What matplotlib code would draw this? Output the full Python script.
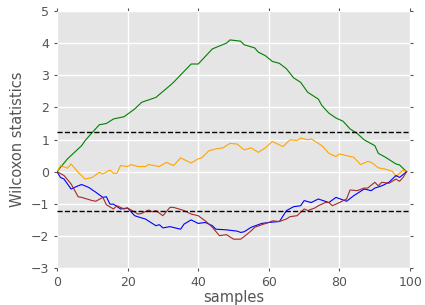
import matplotlib
matplotlib.use("Agg")
import matplotlib.pyplot as plt

plt.style.use("ggplot")
plt.rcParams["font.family"] = ["DejaVu Sans"]

green_x = [0,3,7,8,10,12,14,16,19,22,24,28,32,33,38,40,44,48,49,52,53,56,57,59,61,63,65,67,69,71,74,75,77,79,81,83,85,87,90,91,93,96,97,99]
green_y = [0,0.40,0.81,0.97,1.22,1.46,1.50,1.64,1.71,1.95,2.16,2.31,2.68,2.78,3.35,3.35,3.82,4.0,4.1,4.06,3.95,3.85,3.72,3.61,3.43,3.37,3.20,2.92,2.78,2.47,2.26,2.06,1.82,1.67,1.57,1.33,1.19,0.99,0.81,0.57,0.45,0.24,0.21,0]

orange_x = [0,1,3,4,6,8,10,12,13,15,16,17,18,20,21,23,25,26,29,31,33,35,38,40,41,43,45,47,49,51,53,55,57,59,61,64,66,68,69,71,72,75,77,79,80,82,84,86,88,89,91,93,95,96,97,98,99]
orange_y = [0,0.19,0.11,0.24,-0.02,-0.23,-0.18,-0.02,-0.07,0.05,-0.05,-0.05,0.19,0.16,0.22,0.16,0.16,0.22,0.16,0.29,0.19,0.43,0.27,0.40,0.43,0.65,0.71,0.74,0.88,0.86,0.68,0.74,0.60,0.74,0.94,0.78,0.99,0.97,1.05,0.99,1.02,0.81,0.57,0.47,0.55,0.50,0.45,0.22,0.32,0.29,0.12,0.08,0.01,-0.16,-0.05,0.05,0]

blue_x = [0,1,2,4,6,7,9,11,13,14,15,16,18,20,22,24,25,28,29,30,32,35,36,38,40,42,44,45,48,51,52,53,55,58,60,63,65,67,69,70,72,74,77,79,82,84,87,89,90,92,94,96,97,99]
blue_y = [0,-0.18,-0.23,-0.54,-0.44,-0.40,-0.49,-0.64,-0.80,-0.78,-1.01,-1.01,-1.16,-1.13,-1.37,-1.44,-1.47,-1.68,-1.65,-1.75,-1.71,-1.79,-1.63,-1.50,-1.61,-1.58,-1.68,-1.79,-1.81,-1.85,-1.89,-1.87,-1.73,-1.61,-1.58,-1.55,-1.21,-1.09,-1.06,-0.90,-0.96,-0.85,-0.96,-0.80,-0.92,-0.75,-0.54,-0.59,-0.51,-0.44,-0.33,-0.12,-0.18,0]

red_x = [0,2,4,6,7,10,11,13,14,16,17,19,20,23,24,26,27,28,30,32,33,36,38,40,42,44,46,48,50,52,53,55,56,58,60,61,63,65,66,68,70,71,73,74,76,77,78,80,82,83,85,87,88,90,91,92,94,96,97,98,99]
red_y = [0,-0.12,-0.38,-0.78,-0.80,-0.90,-0.92,-0.80,-1.03,-1.16,-1.06,-1.16,-1.13,-1.32,-1.30,-1.19,-1.25,-1.21,-1.37,-1.11,-1.11,-1.21,-1.32,-1.37,-1.53,-1.73,-1.99,-1.96,-2.10,-2.10,-2.02,-1.84,-1.73,-1.65,-1.58,-1.53,-1.55,-1.47,-1.40,-1.37,-1.16,-1.21,-1.13,-1.06,-0.96,-0.96,-1.06,-0.96,-0.85,-0.57,-0.59,-0.51,-0.51,-0.33,-0.44,-0.33,-0.36,-0.23,-0.30,-0.18,0]

threshold = 1.22

fig = plt.figure(figsize=(4.25, 3.05), dpi=100)
ax = fig.add_axes([0.134, 0.121, 0.831, 0.843])
ax.set_facecolor("#E5E5E5")

ax.plot(green_x, green_y, color="#008000", lw=0.8)
ax.plot(orange_x, orange_y, color="#FFA500", lw=0.8)
ax.plot(blue_x, blue_y, color="#0000FF", lw=0.8)
ax.plot(red_x, red_y, color="#A52A2A", lw=0.8)
ax.axhline(threshold, color="black", ls="--", lw=1)
ax.axhline(-threshold, color="black", ls="--", lw=1)

ax.set_xlim(0, 100)
ax.set_ylim(-3, 5)
ax.set_xticks(range(0, 101, 20))
ax.set_yticks(range(-3, 6))
ax.grid(True, color="white", lw=1)
ax.set_axisbelow(True)
for s in ax.spines.values():
    s.set_visible(False)
ax.tick_params(axis="both", labelsize=9, colors="#555555", length=2, direction="out",
               top=True, right=True)
ax.set_xlabel("samples", fontsize=10.5, color="#555555", labelpad=1)
ax.set_ylabel("Wilcoxon statistics", fontsize=10.5, color="#555555", labelpad=4)

fig.savefig("out.png", dpi=100)
